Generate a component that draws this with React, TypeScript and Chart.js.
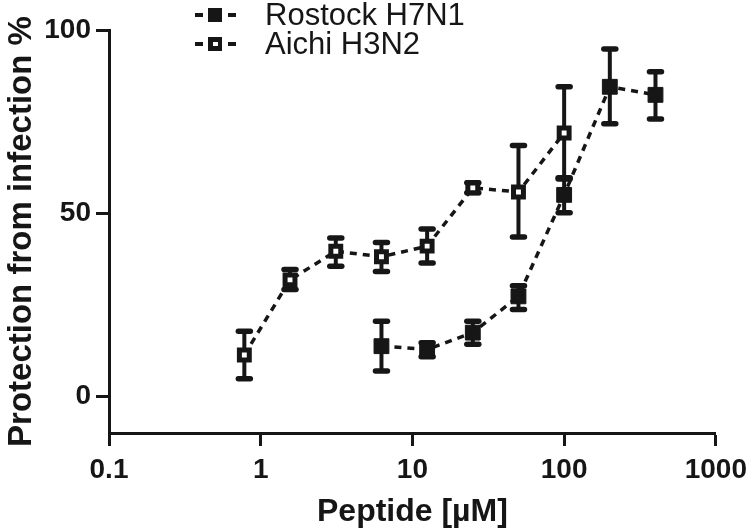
import React, { useEffect, useRef } from "react";
import { Chart, registerables } from "chart.js";

Chart.register(...registerables);

// ---- data ----
const rostockConc = [6.25, 12.5, 25, 50, 100, 200, 400];
const rostockMean = [13.7, 12.8, 17.4, 27.3, 55.0, 84.5, 82.3];
const rostockLow = [6.9, 10.8, 14.2, 23.7, 50.1, 74.4, 75.7];
const rostockHigh = [20.5, 14.6, 20.5, 30.2, 59.7, 94.8, 88.6];

const aichiConc = [0.78, 1.56, 3.125, 6.25, 12.5, 25, 50, 100];
const aichiMean = [11.3, 31.8, 39.6, 38.1, 41.0, 56.9, 55.8, 71.9];
const aichiLow = [4.8, 29.2, 35.5, 34.1, 36.4, 55.6, 43.5, 59.3];
const aichiHigh = [17.8, 34.6, 43.2, 42.0, 45.7, 58.3, 68.5, 84.5];

const xTicks = [0.1, 1, 10, 100, 1000];
const yTicks = [0, 50, 100];
const seriesNames = ["Rostock H7N1", "Aichi H3N2"];

const INK = "#161616";
const FONT = "'Liberation Sans', Arial, Helvetica, sans-serif";

const errorSets = [
  { conc: rostockConc, low: rostockLow, high: rostockHigh },
  { conc: aichiConc, low: aichiLow, high: aichiHigh },
];

const errorBarPlugin = {
  id: "errorBars",
  beforeDatasetsDraw(chart: any) {
    const ctx = chart.ctx;
    const xs = chart.scales.x;
    const ys = chart.scales.y;
    ctx.save();
    ctx.strokeStyle = INK;
    errorSets.forEach((s) => {
      s.conc.forEach((c, i) => {
        const px = xs.getPixelForValue(c);
        const pl = ys.getPixelForValue(s.low[i]);
        const ph = ys.getPixelForValue(s.high[i]);
        ctx.lineCap = "butt";
        ctx.lineWidth = 4;
        ctx.beginPath();
        ctx.moveTo(px, pl);
        ctx.lineTo(px, ph);
        ctx.stroke();
        ctx.lineCap = "round";
        ctx.lineWidth = 5.5;
        [pl, ph].forEach((py) => {
          ctx.beginPath();
          ctx.moveTo(px - 6, py);
          ctx.lineTo(px + 6, py);
          ctx.stroke();
        });
      });
    });
    ctx.restore();
  },
};

const legendPlugin = {
  id: "customLegend",
  afterDraw(chart: any) {
    const ctx = chart.ctx;
    ctx.save();
    const rows = [15, 44];
    rows.forEach((y, idx) => {
      ctx.strokeStyle = INK;
      ctx.lineWidth = 4;
      ctx.setLineDash([]);
      ctx.beginPath();
      ctx.moveTo(195, y);
      ctx.lineTo(203, y);
      ctx.moveTo(228, y);
      ctx.lineTo(236, y);
      ctx.stroke();
      ctx.fillStyle = INK;
      ctx.fillRect(208, y - 7, 14, 14);
      if (idx === 1) {
        ctx.fillStyle = "#fff";
        ctx.fillRect(213, y - 2, 5, 4);
      }
      ctx.fillStyle = INK;
      ctx.font = `31px ${FONT}`;
      ctx.textBaseline = "middle";
      ctx.textAlign = "left";
      ctx.fillText(seriesNames[idx], 265, y + 1);
    });
    ctx.restore();
  },
};

export default function App() {
  const ref = useRef<HTMLCanvasElement | null>(null);

  useEffect(() => {
    if (!ref.current) return;
    const chart = new Chart(ref.current, {
      type: "line",
      data: {
        datasets: [
          {
            label: seriesNames[0],
            data: rostockConc.map((x, i) => ({ x, y: rostockMean[i] })),
            borderColor: INK,
            borderWidth: 3.5,
            borderDash: [7, 6],
            pointStyle: "rect",
            pointRadius: 10.5,
            pointBackgroundColor: INK,
            pointBorderColor: INK,
            pointBorderWidth: 1,
            fill: false,
            tension: 0,
            clip: false as any,
          },
          {
            label: seriesNames[1],
            data: aichiConc.map((x, i) => ({ x, y: aichiMean[i] })),
            borderColor: INK,
            borderWidth: 3.5,
            borderDash: [7, 6],
            pointStyle: "rect",
            pointRadius: 7,
            pointBackgroundColor: "#ffffff",
            pointBorderColor: INK,
            pointBorderWidth: 5,
            fill: false,
            tension: 0,
            clip: false as any,
          },
        ],
      },
      options: {
        animation: false,
        responsive: true,
        maintainAspectRatio: false,
        layout: { padding: { left: 0, top: 30, right: 38, bottom: 0 } },
        plugins: {
          legend: { display: false },
          tooltip: { enabled: false },
        },
        scales: {
          x: {
            type: "logarithmic",
            min: 0.1,
            max: 1000,
            afterBuildTicks: (s: any) => {
              s.ticks = xTicks.map((v) => ({ value: v }));
            },
            afterFit: (s: any) => {
              s.height = 97;
            },
            border: { display: true, color: INK, width: 3 },
            grid: {
              display: true,
              drawOnChartArea: false,
              drawTicks: true,
              tickLength: 13,
              tickWidth: 3,
              tickColor: INK,
            },
            ticks: {
              color: INK,
              font: { family: FONT, size: 28, weight: "bold" },
              padding: 7,
              maxRotation: 0,
              autoSkip: false,
              callback: (v: any) => String(v),
            },
            title: {
              display: true,
              text: "Peptide [µM]",
              color: INK,
              font: { family: FONT, size: 32, weight: "bold", lineHeight: 1 },
              padding: { top: 0, bottom: 2 },
            },
          },
          y: {
            type: "linear",
            min: -10,
            max: 100,
            afterBuildTicks: (s: any) => {
              s.ticks = yTicks.map((v) => ({ value: v }));
            },
            afterFit: (s: any) => {
              s.width = 109;
            },
            border: { display: true, color: INK, width: 3 },
            grid: {
              display: true,
              drawOnChartArea: false,
              drawTicks: true,
              tickLength: 13,
              tickWidth: 3,
              tickColor: INK,
            },
            ticks: {
              color: INK,
              font: { family: FONT, size: 28, weight: "bold" },
              padding: 5,
              autoSkip: false,
            },
            title: {
              display: true,
              text: "Protection from infection %",
              color: INK,
              font: { family: FONT, size: 33, weight: "bold", lineHeight: 1 },
              padding: { top: 5, bottom: 0 },
            },
          },
        },
      },
      plugins: [errorBarPlugin, legendPlugin],
    });
    return () => chart.destroy();
  }, []);

  return (
    <div style={{ position: "fixed", left: 0, top: 0, width: 754, height: 530, background: "#fff" }}>
      <canvas ref={ref} />
    </div>
  );
}
